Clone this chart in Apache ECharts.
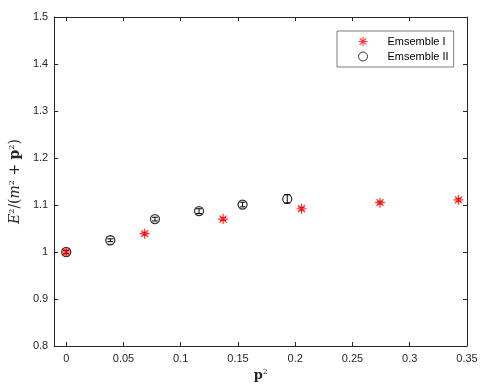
<!DOCTYPE html>
<html>
<head>
<meta charset="utf-8">
<script src="https://cdn.jsdelivr.net/npm/echarts@6/dist/echarts.min.js"></script>
<style>
  html, body { margin: 0; padding: 0; background: #fff; }
  #chart { width: 498px; height: 388px; }
</style>
</head>
<body>
<div id="chart"></div>
<script>
// Ensemble I (red asterisks)
const ens1X = [0, 0.0685, 0.137, 0.2055, 0.274, 0.3425]
const ens1Y = [1.0, 1.039, 1.070, 1.092, 1.105, 1.111]
const ens1Err = [0.003, 0.003, 0.003, 0.003, 0.003, 0.003]
// Ensemble II (black circles)
const ens2X = [0, 0.0385, 0.0775, 0.116, 0.154, 0.193]
const ens2Y = [1.0, 1.025, 1.070, 1.087, 1.101, 1.113]
const ens2Err = [0.004, 0.003, 0.004, 0.005, 0.005, 0.009]

const xTicks = [0, 0.05, 0.1, 0.15, 0.2, 0.25, 0.3, 0.35]
const legendNames = ["Emsemble I", "Emsemble II"]

const axisColor = "#262626"
const asterisk = "path://M-1.2 -10L1.2 -10L1.2 10L-1.2 10Z" +
  "M-10 -1.2L10 -1.2L10 1.2L-10 1.2Z" +
  "M-6.15 -7.85L7.85 6.15L6.15 7.85L-7.85 -6.15Z" +
  "M7.85 -6.15L-6.15 7.85L-7.85 6.15L6.15 -7.85Z"

const zip = (xs, ys, es) => xs.map((x, i) => es ? [x, ys[i], es[i]] : [x, ys[i]])

function errorBar(color) {
  return function (params, api) {
    const x = api.value(0), y = api.value(1), e = api.value(2)
    const top = api.coord([x, y + e])
    const bot = api.coord([x, y - e])
    const style = {stroke: color, lineWidth: 1}
    return {
      type: "group",
      children: [
        {type: "line", shape: {x1: top[0], y1: top[1], x2: bot[0], y2: bot[1]}, style},
        {type: "line", shape: {x1: top[0] - 3, y1: top[1], x2: top[0] + 3, y2: top[1]}, style},
        {type: "line", shape: {x1: bot[0] - 3, y1: bot[1], x2: bot[0] + 3, y2: bot[1]}, style}
      ]
    }
  }
}

const xBase = {
  type: "value", min: -0.0105, max: 0.35,
  splitLine: {show: false},
  axisLine: {show: true, onZero: false, lineStyle: {color: axisColor, width: 1}},
  axisTick: {show: true, inside: true, length: 4, customValues: xTicks, lineStyle: {color: axisColor}}
}
const yBase = {
  type: "value", min: 0.8, max: 1.5, interval: 0.1,
  splitLine: {show: false},
  axisLine: {show: true, onZero: false, lineStyle: {color: axisColor, width: 1}},
  axisTick: {show: true, inside: true, length: 4, lineStyle: {color: axisColor}}
}

const serif = "DejaVu Serif"

const chart = echarts.init(document.getElementById("chart"))
chart.setOption({
  animation: false,
  backgroundColor: "#fff",
  grid: {left: 53, right: 31, top: 17, bottom: 42},
  legend: {
    data: [
      {name: legendNames[0]},
      {name: legendNames[1], itemStyle: {borderWidth: 1}}
    ],
    orient: "vertical",
    left: 337, top: 31,
    padding: [5, 5, 5, 21],
    itemGap: 4, itemWidth: 9, itemHeight: 9,
    backgroundColor: "#fff",
    borderColor: axisColor, borderWidth: 0.6,
    textStyle: {fontFamily: "Liberation Sans", fontSize: 11, color: "#000", padding: [0, 0, 0, 15]}
  },
  xAxis: [
    Object.assign({}, xBase, {
      position: "bottom",
      axisLabel: {customValues: xTicks, color: axisColor, fontFamily: "Liberation Sans", fontSize: 11, margin: 7},
      name: "{b|p}{s|2}",
      nameLocation: "middle",
      nameGap: 19,
      nameTextStyle: {
        rich: {
          b: {fontFamily: serif, fontWeight: "bold", fontSize: 13, color: axisColor},
          s: {fontFamily: serif, fontSize: 7, color: axisColor, verticalAlign: "top"}
        }
      }
    }),
    Object.assign({}, xBase, {position: "top", axisLabel: {show: false}})
  ],
  yAxis: [
    Object.assign({}, yBase, {
      position: "left",
      axisLabel: {color: axisColor, fontFamily: "Liberation Sans", fontSize: 11, margin: 6},
      name: "{i|E}{s|2}{n|/(}{i|m}{s|2}{n| + }{b|p}{s|2}{n|)}",
      nameLocation: "middle",
      nameRotate: 90,
      nameGap: 30,
      nameTextStyle: {
        rich: {
          i: {fontFamily: serif, fontStyle: "italic", fontSize: 14, color: axisColor},
          n: {fontFamily: serif, fontSize: 14, color: axisColor},
          b: {fontFamily: serif, fontWeight: "bold", fontSize: 14, color: axisColor},
          s: {fontFamily: serif, fontSize: 8, color: axisColor, verticalAlign: "top"}
        }
      }
    }),
    Object.assign({}, yBase, {position: "right", axisLabel: {show: false}})
  ],
  series: [
    {
      name: "err1", type: "custom", xAxisIndex: 0, yAxisIndex: 0,
      data: zip(ens1X, ens1Y, ens1Err), encode: {x: 0, y: 1},
      renderItem: errorBar("#ff0000"), z: 2
    },
    {
      name: "err2", type: "custom", xAxisIndex: 0, yAxisIndex: 0,
      data: zip(ens2X, ens2Y, ens2Err), encode: {x: 0, y: 1},
      renderItem: errorBar("#000"), z: 2
    },
    {
      name: legendNames[1], type: "scatter",
      data: zip(ens2X, ens2Y),
      symbol: "circle", symbolSize: 9,
      itemStyle: {color: "rgba(0,0,0,0)", borderColor: "#000", borderWidth: 1.3},
      z: 3
    },
    {
      name: legendNames[0], type: "scatter",
      data: zip(ens1X, ens1Y),
      symbol: asterisk, symbolSize: 10,
      itemStyle: {color: "#ff0000"},
      z: 4
    }
  ]
})
</script>
</body>
</html>
